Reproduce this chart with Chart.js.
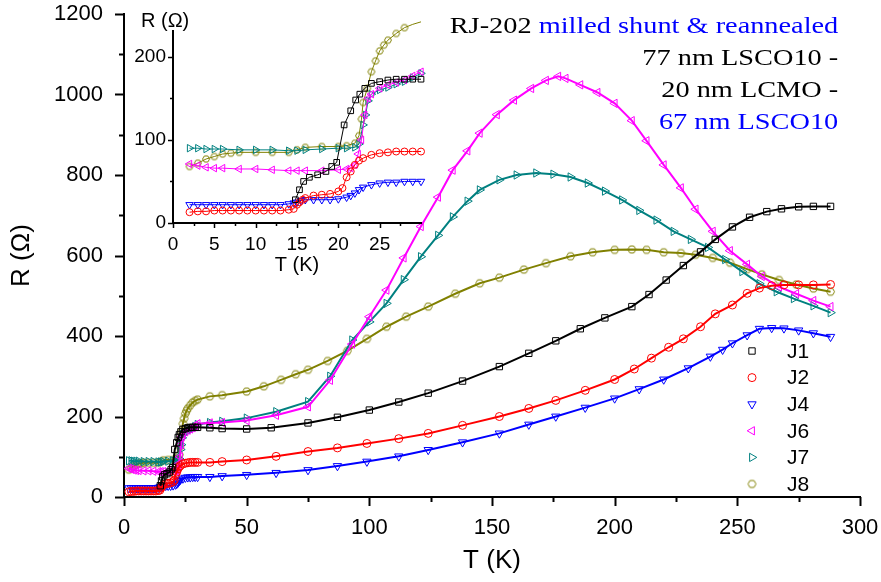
<!DOCTYPE html>
<html>
<head>
<meta charset="utf-8">
<script src="https://cdn.jsdelivr.net/npm/chart.js"></script>
<style>
  html, body { margin: 0; padding: 0; background: #fff; }
  #wrap { position: relative; width: 881px; height: 582px; overflow: hidden; }
  #main { position: absolute; left: 0; top: 0; }
  #ins { position: absolute; left: 130px; top: 0; }
  .note { position: absolute; right: 43px; top: 9px; font: 24px/32px 'Liberation Serif', 'Times New Roman', serif; color: #000; text-align: right; white-space: nowrap; transform: scaleX(1.18); transform-origin: right top; }
  .blue { color: #0000ff; }
  .insR { position: absolute; left: 141px; top: 10px; font: 20px/20px 'Liberation Sans', Arial, sans-serif; color: #000; }
</style>
</head>
<body>
<div id="wrap">
  <canvas id="main" width="881" height="582"></canvas>
  <canvas id="ins" width="300" height="280"></canvas>
  <div class="note">RJ-202 <span class="blue">milled shunt &amp; reannealed</span><br>77 nm LSCO10 -<br>20 nm LCMO -<br><span class="blue">67 nm LSCO10</span></div>
  <div class="insR">R (Ω)</div>
</div>
<script>
// temperatures (K) and resistances (Ohm)
const j1T = [14.8, 15.3, 15.8, 16.5, 17.5, 18.5, 19.2, 19.8, 20.7, 21.5, 22.1, 22.6, 23.2, 24, 25, 26, 27, 28, 29, 30, 35, 40, 50, 60, 75, 87, 100, 112, 124, 138, 153, 165, 176, 186, 196, 207, 214, 221, 228, 235, 241, 248, 255, 262, 268, 275, 281, 288];
const j1R = [28, 40, 50, 55, 58, 62, 68, 73, 118, 135, 148, 155, 162, 168, 170, 172, 173, 173, 173, 173, 172, 170, 169, 172, 184, 198, 216, 236, 258, 288, 324, 357, 388, 418, 445, 473, 503, 539, 575, 609, 640, 671, 695, 709, 716, 721, 722, 722];

const j2T = [2, 3, 4, 5, 6, 7, 8, 9, 10, 11, 12, 13, 14, 14.6, 15, 15.3, 15.7, 16, 17, 18, 19, 20, 20.5, 21, 21.5, 22, 22.5, 23, 24, 25, 26, 27, 28, 29, 30, 35, 40, 50, 62, 75, 87, 99, 112, 124, 138, 153, 165, 176, 188, 200, 208, 215, 222, 228, 235, 241, 248, 254, 259, 264, 269, 275, 281, 288];
const j2R = [13, 14, 14, 15, 15, 15, 15, 15, 15, 15, 15, 15, 16, 17, 22, 25, 28, 30, 33, 34, 35, 38, 42, 55, 62, 70, 75, 78, 82, 84, 85, 86, 86, 86, 86, 86, 88, 92, 101, 113, 122, 133, 145, 158, 178, 200, 220, 240, 265, 292, 318, 345, 372, 393, 423, 455, 477, 506, 519, 525, 527, 527, 527, 528];

const j4T = [2, 3, 4, 5, 6, 7, 8, 9, 10, 11, 12, 13, 14, 14.6, 15, 15.5, 16, 17, 18, 19, 20, 21, 21.5, 22, 22.5, 23, 24, 25, 26, 27, 28, 29, 30, 35, 40, 50, 62, 75, 87, 99, 112, 124, 138, 153, 165, 176, 188, 200, 210, 220, 230, 239, 244, 248, 254, 259, 264, 269, 275, 281, 288];
const j4R = [22, 22, 22, 22, 22, 22, 22, 22, 22, 22, 22, 22, 23, 24, 25, 27, 28, 28, 28, 28, 29, 31, 33, 36, 40, 43, 46, 48, 49, 49, 50, 50, 50, 50, 52, 55, 60, 67, 77, 88, 101, 117, 136, 158, 180, 200, 222, 245, 268, 292, 320, 349, 366, 382, 402, 418, 420, 419, 414, 407, 398];

const j6T = [2, 3, 4, 5, 6, 8, 10, 12, 14, 15, 16, 18, 20, 21, 21.5, 22, 22.4, 22.8, 23.2, 23.6, 24, 25, 26, 27, 28, 29, 30, 35, 40, 50, 62, 75, 84, 93, 100, 107, 114, 121, 128, 134, 140, 145, 152, 159, 166, 172, 177, 180, 186, 193, 200, 207, 213, 220, 227, 233, 240, 247, 254, 260, 267, 274, 281, 288];
const j6R = [71, 69, 67, 66, 66, 65, 65, 64, 63, 63, 63, 63, 64, 65, 66, 70, 83, 100, 130, 150, 155, 162, 166, 169, 172, 177, 182, 184, 185, 190, 203, 224, 290, 380, 448, 514, 594, 672, 745, 812, 860, 904, 950, 986, 1015, 1035, 1045, 1040, 1024, 1005, 978, 935, 885, 825, 768, 715, 660, 612, 578, 548, 522, 505, 488, 473];

const j7T = [2, 3, 4, 5, 6, 8, 10, 12, 14, 15, 16, 18, 20, 21, 22, 22.5, 23, 23.3, 23.6, 24, 25, 26, 27, 28, 29, 30, 35, 40, 50, 62, 75, 84, 93, 100, 107, 114, 121, 128, 134, 140, 145, 153, 160, 168, 175, 182, 189, 196, 203, 210, 217, 224, 231, 238, 245, 252, 259, 266, 273, 281, 288];
const j7R = [90, 90, 89, 89, 89, 88, 88, 88, 87, 87, 88, 89, 90, 90, 91, 95, 118, 130, 147, 155, 160, 163, 167, 170, 175, 180, 185, 188, 196, 212, 237, 300, 390, 435, 481, 540, 597, 650, 696, 735, 763, 788, 800, 805, 802, 795, 780, 760, 738, 712, 688, 660, 640, 620, 590, 560, 530, 510, 493, 475, 458];

const j8T = [2, 3, 4, 5, 6, 7, 8, 10, 12, 14, 15, 16, 18, 20, 21, 22, 22.5, 22.8, 23, 23.5, 24, 24.5, 25, 25.5, 26, 27, 28, 29, 30, 35, 40, 50, 57, 64, 70, 75, 83, 91, 99, 107, 115, 124, 135, 145, 153, 163, 172, 182, 191, 200, 207, 213, 220, 227, 233, 240, 247, 254, 260, 267, 274, 281, 288];
const j8R = [68, 72, 77, 80, 83, 84, 85, 85, 85, 85, 88, 91, 92, 92, 93, 96, 105, 125, 145, 162, 182, 195, 207, 214, 220, 228, 235, 239, 242, 250, 253, 262, 275, 291, 305, 316, 338, 363, 393, 423, 448, 473, 505, 531, 545, 565, 581, 598, 608, 614, 615, 614, 608, 606, 602, 594, 582, 566, 553, 539, 528, 518, 510];

const names = ['J1', 'J2', 'J4', 'J6', 'J7', 'J8'];

const mainXTicks = [0, 25, 50, 75, 100, 125, 150, 175, 200, 225, 250, 275, 300];
const mainYTicks = [0, 100, 200, 300, 400, 500, 600, 700, 800, 900, 1000, 1100, 1200];
const insXTicks = [0, 2.5, 5, 7.5, 10, 12.5, 15, 17.5, 20, 22.5, 25, 27.5];
const insYTicks = [0, 50, 100, 150, 200];

const FONT = "'Liberation Sans', Arial, sans-serif";

// hollow hexagon for J8 (Chart.js has no hexagon style)
function hexMarker(color, r) {
  const c = document.createElement('canvas');
  const s = Math.ceil(r * 2 + 3);
  c.width = c.height = s;
  const g = c.getContext('2d');
  g.strokeStyle = color;
  g.lineWidth = 1;
  g.beginPath();
  for (let k = 0; k < 6; k++) {
    const a = k * Math.PI / 3;
    const x = s / 2 + r * Math.cos(a), y = s / 2 + r * Math.sin(a);
    k ? g.lineTo(x, y) : g.moveTo(x, y);
  }
  g.closePath();
  g.stroke();
  return c;
}

const zip = (T, R) => T.map((t, i) => ({ x: t, y: R[i] }));

function makeSets(r, maxT, lw) {
  const series = [
    [j1T, j1R, '#000000', 'rect', 0, r + 0.5],
    [j2T, j2R, '#ff0000', 'circle', 0, r],
    [j4T, j4R, '#0000ff', 'triangle', 180, r + 0.8],
    [j6T, j6R, '#ff00ff', 'triangle', -90, r + 0.8],
    [j7T, j7R, '#008080', 'triangle', 90, r + 0.8],
    [j8T, j8R, '#808000', hexMarker('#808000', r), 0, r]
  ];
  return series.map((s, i) => ({
    label: names[i],
    data: zip(s[0], s[1]).filter(p => p.x <= maxT),
    borderColor: s[2],
    backgroundColor: 'rgba(0,0,0,0)',
    pointStyle: s[3],
    rotation: s[4],
    pointRadius: s[5],
    pointBorderWidth: 1,
    borderWidth: lw,
    showLine: true,
    clip: false
  }));
}

// outward tick marks, long on labelled ticks and short on the others
const tickMarks = {
  id: 'tickMarks',
  afterDraw(chart, args, opts) {
    const ctx = chart.ctx;
    ctx.save();
    ctx.strokeStyle = '#000';
    ctx.lineWidth = opts.width;
    Object.values(chart.scales).forEach(s => {
      s.ticks.forEach((t, i) => {
        const len = t.label !== '' ? opts.major : opts.minor;
        const p = Math.round(s.getPixelForTick(i)) + 0.5;
        ctx.beginPath();
        if (s.isHorizontal()) {
          ctx.moveTo(p, s.top);
          ctx.lineTo(p, s.top + len);
        } else {
          ctx.moveTo(s.right, p);
          ctx.lineTo(s.right - len, p);
        }
        ctx.stroke();
      });
    });
    ctx.restore();
  }
};

// legend in the lower right corner of the plot
const cornerLegend = {
  id: 'cornerLegend',
  afterDraw(chart) {
    const ctx = chart.ctx;
    const a = chart.chartArea;
    ctx.save();
    chart.data.datasets.forEach((d, i) => {
      const y = a.bottom - 13 - (5 - i) * 26.6;
      const x = a.right - 108;
      ctx.strokeStyle = d.borderColor;
      ctx.fillStyle = 'rgba(0,0,0,0)';
      ctx.lineWidth = 1;
      Chart.helpers.drawPoint(ctx, { pointStyle: d.pointStyle, radius: d.pointRadius, rotation: d.rotation, borderWidth: 1 }, x, y);
      ctx.fillStyle = '#000';
      ctx.font = '21px ' + FONT;
      ctx.textBaseline = 'middle';
      ctx.fillText(d.label, x + 35, y + 1);
    });
    ctx.restore();
  }
};

function axis(o) {
  return {
    type: 'linear',
    min: o.min,
    max: o.max,
    afterBuildTicks: s => { s.ticks = o.ticks.map(v => ({ value: v })); },
    afterFit: s => {
      o.fit(s);
      // let the layout padding alone decide where the plot area ends
      s.paddingTop = s.paddingBottom = s.paddingLeft = s.paddingRight = 0;
    },
    ticks: {
      autoSkip: false,
      maxRotation: 0,
      color: '#000',
      padding: o.pad,
      font: { family: FONT, size: o.size },
      callback: v => (v % o.every === 0 ? String(v) : '')
    },
    grid: { drawOnChartArea: false, drawTicks: true, tickLength: o.tick, tickColor: 'rgba(0,0,0,0)' },
    border: { display: true, color: '#000', width: 2 },
    title: o.title ? { display: true, text: o.title, color: '#000', font: { family: FONT, size: o.tsize }, padding: { top: o.tpad, bottom: o.tpad } } : { display: false }
  };
}

new Chart(document.getElementById('main'), {
  type: 'scatter',
  data: { datasets: makeSets(4, 300, 2) },
  options: {
    responsive: false,
    animation: false,
    layout: { padding: { top: 14, right: 21, left: 0, bottom: 0 } },
    plugins: {
      legend: { display: false },
      tooltip: { enabled: false },
      tickMarks: { width: 2, major: 9, minor: 5 }
    },
    scales: {
      x: axis({ min: 0, max: 300, ticks: mainXTicks, every: 50, size: 22, pad: 9, tick: 9, title: 'T (K)', tsize: 26, tpad: 6, fit: s => { s.height = 85; } }),
      y: axis({ min: 0, max: 1200, ticks: mainYTicks, every: 200, size: 22, pad: 12, tick: 9, title: 'R (Ω)', tsize: 26, tpad: 6, fit: s => { s.width = 124; } })
    }
  },
  plugins: [tickMarks, cornerLegend]
});

new Chart(document.getElementById('ins'), {
  type: 'scatter',
  data: { datasets: makeSets(3.5, 30, 1) },
  options: {
    responsive: false,
    animation: false,
    layout: { padding: { top: 31, right: 9, left: 0, bottom: 0 } },
    plugins: {
      legend: { display: false },
      tooltip: { enabled: false },
      tickMarks: { width: 1.5, major: 5, minor: 3 }
    },
    scales: {
      x: axis({ min: 0, max: 30, ticks: insXTicks, every: 5, size: 19, pad: 5, tick: 5, title: 'T (K)', tsize: 20, tpad: 3, fit: s => { s.height = 57; } }),
      y: axis({ min: 0, max: 231, ticks: insYTicks, every: 100, size: 19, pad: 2, tick: 5, fit: s => { s.width = 43; } })
    }
  },
  plugins: [tickMarks]
});
</script>
</body>
</html>
